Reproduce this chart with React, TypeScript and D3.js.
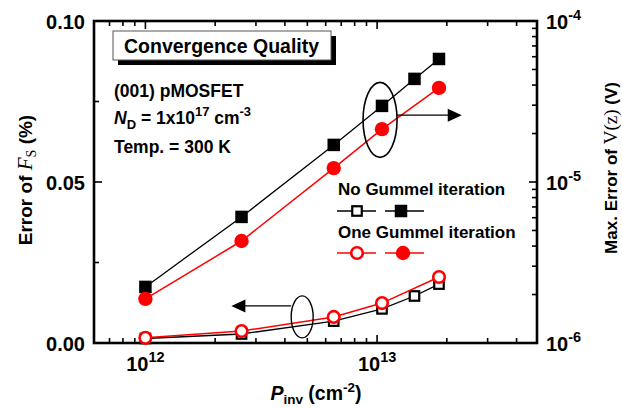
import { useEffect, useRef } from 'react'
import * as d3 from 'd3'

// inversion charge density (cm^-2)
const P_INV_NO = [1e12, 2.6e12, 6.5e12, 1.05e13, 1.45e13, 1.85e13]
const P_INV_ONE = [1e12, 2.6e12, 6.5e12, 1.05e13, 1.85e13]

// Error of Fs (%), left axis, open markers
const FS_NO_GUMMEL = [0.0014, 0.0028, 0.0068, 0.0106, 0.0146, 0.0183]
const FS_ONE_GUMMEL = [0.0016, 0.0037, 0.0081, 0.0124, 0.0205]

// Max. error of V(z) (V), right axis, filled markers
const V_NO_GUMMEL = [2.23e-6, 6.07e-6, 1.7e-5, 2.97e-5, 4.37e-5, 5.81e-5]
const V_ONE_GUMMEL = [1.88e-6, 4.3e-6, 1.22e-5, 2.13e-5, 3.84e-5]

const LEFT_TICKS = [0, 0.05, 0.1]
const LEFT_MINOR = [0.025, 0.075]
const X_MAJOR = [1e12, 1e13]
const RIGHT_MAJOR = [1e-6, 1e-5, 1e-4]

const SANS = '"Liberation Sans", Arial, sans-serif'
const SERIF = '"Liberation Serif", "Times New Roman", serif'
const RED = '#ff0000'

export default function App() {
  const svgRef = useRef<SVGSVGElement>(null)

  useEffect(() => {
    if (!svgRef.current) return
    const svg = d3.select(svgRef.current)
    svg.selectAll('*').remove()

    const left = 94, right = 537, top = 21, bottom = 343

    const x = d3.scaleLog().domain([6e11, 4.9e13]).range([left, right])
    const yL = d3.scaleLinear().domain([0, 0.1]).range([bottom, top])
    const yR = d3.scaleLog().domain([1e-6, 1e-4]).range([bottom, top])

    svg.append('rect').attr('width', 622).attr('height', 408).attr('fill', '#fff')

    const tick = (x1: number, y1: number, x2: number, y2: number, w = 1.6) =>
      svg.append('line')
        .attr('x1', x1).attr('y1', y1).attr('x2', x2).attr('y2', y2)
        .attr('stroke', '#000').attr('stroke-width', w)

    // x ticks, bottom and top
    x.ticks().forEach((t) => {
      const major = X_MAJOR.some((m) => Math.abs(m - t) / m < 1e-6)
      const len = major ? 8 : 5
      tick(x(t), bottom, x(t), bottom - len)
      tick(x(t), top, x(t), top + len)
    })

    // left ticks
    LEFT_TICKS.forEach((t) => tick(left, yL(t), left + 8, yL(t)))
    LEFT_MINOR.forEach((t) => tick(left, yL(t), left + 5, yL(t)))

    // right ticks
    yR.ticks().forEach((t) => {
      const major = RIGHT_MAJOR.some((m) => Math.abs(m - t) / m < 1e-6)
      tick(right, yR(t), right - (major ? 8 : 5), yR(t))
    })

    // frame
    svg.append('rect')
      .attr('x', left).attr('y', top)
      .attr('width', right - left).attr('height', bottom - top)
      .attr('fill', 'none').attr('stroke', '#000').attr('stroke-width', 2.6)

    // left tick labels
    LEFT_TICKS.forEach((t) => {
      svg.append('text')
        .attr('x', 85).attr('y', yL(t) + 7.5)
        .attr('text-anchor', 'end')
        .attr('font-family', SANS).attr('font-weight', 700).attr('font-size', 20)
        .text(d3.format('.2f')(t))
    })

    // right tick labels
    RIGHT_MAJOR.forEach((t) => {
      const txt = svg.append('text')
        .attr('x', 546).attr('y', yR(t) + 7.5)
        .attr('font-family', SANS).attr('font-weight', 700).attr('font-size', 20)
      txt.append('tspan').text('10')
      txt.append('tspan').attr('dy', -9).attr('font-size', 14.5).text(String(Math.round(Math.log10(t))))
    })

    // bottom tick labels
    X_MAJOR.forEach((t) => {
      const txt = svg.append('text')
        .attr('x', x(t)).attr('y', 371)
        .attr('text-anchor', 'middle')
        .attr('font-family', SANS).attr('font-weight', 700).attr('font-size', 20)
      txt.append('tspan').text('10')
      txt.append('tspan').attr('dy', -9).attr('font-size', 14.5).text(String(Math.round(Math.log10(t))))
    })

    // axis titles
    const xl = svg.append('text')
      .attr('x', 316).attr('y', 400)
      .attr('text-anchor', 'middle')
      .attr('font-family', SANS).attr('font-weight', 700).attr('font-size', 19.5)
    xl.append('tspan').attr('font-style', 'italic').text('P')
    xl.append('tspan').attr('dy', 4).attr('font-size', 13.5).text('inv')
    xl.append('tspan').attr('dy', -4).text(' (cm')
    xl.append('tspan').attr('dy', -8).attr('font-size', 13.5).text('-2')
    xl.append('tspan').attr('dy', 8).text(')')

    const ylab = svg.append('text')
      .attr('transform', 'translate(32,180) rotate(-90)')
      .attr('text-anchor', 'middle')
      .attr('font-family', SANS).attr('font-weight', 700).attr('font-size', 19)
    ylab.append('tspan').text('Error of ')
    ylab.append('tspan').attr('font-family', SERIF).attr('font-style', 'italic').attr('font-weight', 400).attr('font-size', 21).text('F')
    ylab.append('tspan').attr('font-family', SERIF).attr('font-weight', 400).attr('font-size', 14).attr('dy', 4).text('S')
    ylab.append('tspan').attr('dy', -4).text(' (%)')

    const yrlab = svg.append('text')
      .attr('transform', 'translate(617,168) rotate(-90)')
      .attr('text-anchor', 'middle')
      .attr('font-family', SANS).attr('font-weight', 700).attr('font-size', 17)
    yrlab.append('tspan').text('Max. Error of ')
    yrlab.append('tspan').attr('font-family', SERIF).attr('font-weight', 400).attr('font-size', 19).text('V(z)')
    yrlab.append('tspan').text(' (V)')

    // title box
    svg.append('rect').attr('x', 118).attr('y', 36).attr('width', 218).attr('height', 29).attr('fill', '#000')
    svg.append('rect').attr('x', 113).attr('y', 31).attr('width', 218).attr('height', 29)
      .attr('fill', '#fff').attr('stroke', '#555').attr('stroke-width', 1)
    svg.append('text').attr('x', 124).attr('y', 53)
      .attr('font-family', SANS).attr('font-weight', 700).attr('font-size', 19.5)
      .text('Convergence Quality')

    // info text
    const info = (yy: number) => svg.append('text').attr('x', 114).attr('y', yy)
      .attr('font-family', SANS).attr('font-weight', 700).attr('font-size', 17.5)
    info(97).text('(001) pMOSFET')
    const nd = info(124)
    nd.append('tspan').attr('font-style', 'italic').text('N')
    nd.append('tspan').attr('dy', 5).attr('font-size', 13).text('D')
    nd.append('tspan').attr('dy', -5).text(' = 1x10')
    nd.append('tspan').attr('dy', -8).attr('font-size', 13).text('17')
    nd.append('tspan').attr('dy', 8).text(' cm')
    nd.append('tspan').attr('dy', -8).attr('font-size', 13).text('-3')
    info(153).text('Temp. = 300 K')

    // series
    const lineL = (xs: number[]) => d3.line<number>().x((_, i) => x(xs[i])).y((d) => yL(d))
    const lineR = (xs: number[]) => d3.line<number>().x((_, i) => x(xs[i])).y((d) => yR(d))

    const square = (cx: number, cy: number, s: number, filled: boolean) =>
      svg.append('rect')
        .attr('x', cx - s / 2).attr('y', cy - s / 2).attr('width', s).attr('height', s)
        .attr('fill', filled ? '#000' : '#fff').attr('stroke', '#000').attr('stroke-width', filled ? 0 : 2.2)
    const circle = (cx: number, cy: number, r: number, filled: boolean) =>
      svg.append('circle')
        .attr('cx', cx).attr('cy', cy).attr('r', r)
        .attr('fill', filled ? RED : '#fff').attr('stroke', RED).attr('stroke-width', filled ? 0 : 2.6)

    // black (no Gummel)
    svg.append('path').attr('d', lineR(P_INV_NO)(V_NO_GUMMEL)).attr('fill', 'none').attr('stroke', '#000').attr('stroke-width', 1.3)
    svg.append('path').attr('d', lineL(P_INV_NO)(FS_NO_GUMMEL)).attr('fill', 'none').attr('stroke', '#000').attr('stroke-width', 1.3)
    V_NO_GUMMEL.forEach((d, i) => square(x(P_INV_NO[i]), yR(d), 12.5, true))
    FS_NO_GUMMEL.forEach((d, i) => square(x(P_INV_NO[i]), yL(d), 9.5, false))

    // red (one Gummel)
    svg.append('path').attr('d', lineR(P_INV_ONE)(V_ONE_GUMMEL)).attr('fill', 'none').attr('stroke', RED).attr('stroke-width', 1.5)
    svg.append('path').attr('d', lineL(P_INV_ONE)(FS_ONE_GUMMEL)).attr('fill', 'none').attr('stroke', RED).attr('stroke-width', 1.5)
    V_ONE_GUMMEL.forEach((d, i) => circle(x(P_INV_ONE[i]), yR(d), 7.2, true))
    FS_ONE_GUMMEL.forEach((d, i) => circle(x(P_INV_ONE[i]), yL(d), 5.8, false))

    // ellipses + arrows
    const arrow = (x1: number, x2: number, yy: number) => {
      const dir = Math.sign(x2 - x1)
      svg.append('line').attr('x1', x1).attr('x2', x2 - dir * 12).attr('y1', yy).attr('y2', yy)
        .attr('stroke', '#000').attr('stroke-width', 1.3)
      svg.append('path')
        .attr('d', `M${x2},${yy} L${x2 - dir * 14},${yy - 6.5} L${x2 - dir * 14},${yy + 6.5} Z`)
        .attr('fill', '#000')
    }
    svg.append('ellipse').attr('cx', x(1.03e13)).attr('cy', yR(2.43e-5)).attr('rx', 17).attr('ry', 37.5)
      .attr('fill', 'none').attr('stroke', '#000').attr('stroke-width', 1.6)
    arrow(x(1.03e13) + 17, x(2.32e13), yR(2.6e-5))
    svg.append('ellipse').attr('cx', x(4.75e12)).attr('cy', yL(0.0081)).attr('rx', 11).attr('ry', 21)
      .attr('fill', 'none').attr('stroke', '#000').attr('stroke-width', 1.4)
    arrow(x(4.75e12) - 11, x(2.35e12), yL(0.0115))

    // legend
    const legText = (yy: number, t: string) => svg.append('text').attr('x', 338).attr('y', yy)
      .attr('font-family', SANS).attr('font-weight', 700).attr('font-size', 17).text(t)
    const legLine = (x1: number, x2: number, yy: number, c: string) =>
      svg.append('line').attr('x1', x1).attr('x2', x2).attr('y1', yy).attr('y2', yy)
        .attr('stroke', c).attr('stroke-width', 1.4)
    legText(195, 'No Gummel iteration')
    legLine(337, 376, 211, '#000'); square(357, 211, 9.5, false)
    legLine(385, 424, 211, '#000'); square(401, 211, 12.5, true)
    legText(238, 'One Gummel iteration')
    legLine(337, 376, 253, RED); circle(357, 253, 5.8, false)
    legLine(385, 424, 253, RED); circle(403, 253, 7.2, true)
  }, [])

  return (
    <svg
      ref={svgRef}
      width={622}
      height={408}
      style={{ position: 'absolute', left: 0, top: 0 }}
    />
  )
}
